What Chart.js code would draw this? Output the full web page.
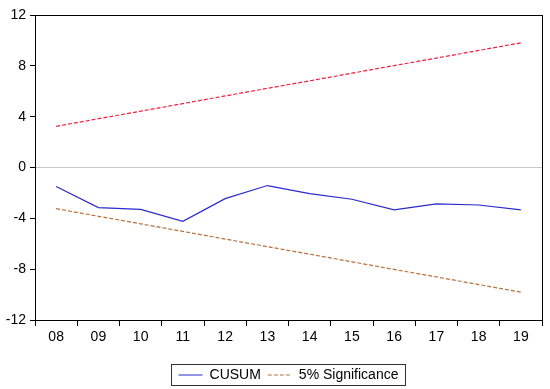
<!DOCTYPE html>
<html>
<head>
<meta charset="utf-8">
<script src="https://cdn.jsdelivr.net/npm/chart.js@4.4.0/dist/chart.umd.min.js"></script>
<style>
  html, body { margin: 0; padding: 0; background: #fff; }
  #wrap { width: 550px; height: 389px; position: relative; }
</style>
</head>
<body>
<div id="wrap"><canvas id="cusum-chart"></canvas></div>
<script>
'use strict';

const years = ['08', '09', '10', '11', '12', '13', '14', '15', '16', '17', '18', '19'];
const cusum = [-1.5, -3.16, -3.3, -4.24, -2.45, -1.42, -2.05, -2.5, -3.34, -2.87, -2.95, -3.34];
const upperBand = [3.24, 3.84, 4.43, 5.03, 5.63, 6.23, 6.82, 7.42, 8.02, 8.61, 9.21, 9.81];
const lowerBand = [-3.24, -3.84, -4.43, -5.03, -5.63, -6.23, -6.82, -7.42, -8.02, -8.61, -9.21, -9.81];
const yTicks = [-12, -8, -4, 0, 4, 8, 12];

const font = 'Liberation Sans, Arial, sans-serif';

// legend is centred under the plot area, not the whole canvas
const legendShift = {
    id: 'legendShift',
    afterLayout(chart) {
        const lg = chart.legend;
        if (!lg) return;
        const dx = (chart.chartArea.left + chart.chartArea.right) / 2 - (lg.left + lg.right) / 2;
        lg.left += dx;
        lg.right += dx;
        lg.legendHitBoxes.forEach(b => { b.left += dx; });
    }
};

// frame round the plot area and box round the legend
const framePlugin = {
    id: 'frame',
    afterDraw(chart) {
        const { ctx, chartArea: a, legend } = chart;
        ctx.save();
        ctx.strokeStyle = '#000';
        ctx.lineWidth = 1;
        ctx.setLineDash([]);
        ctx.strokeRect(Math.round(a.left) + 0.5, Math.round(a.top) + 0.5,
            Math.round(a.right - a.left), Math.round(a.bottom - a.top));
        if (legend && legend.legendHitBoxes.length) {
            const boxes = legend.legendHitBoxes;
            const last = boxes[boxes.length - 1];
            const x0 = boxes[0].left - 8;
            const x1 = last.left + last.width + 6;
            const y0 = boxes[0].top - 4;
            const h = boxes[0].height + 7;
            ctx.strokeStyle = '#333';
            ctx.strokeRect(Math.round(x0) + 0.5, Math.round(y0) + 0.5, Math.round(x1 - x0), Math.round(h));
        }
        ctx.restore();
    }
};

const ctx = document.getElementById('cusum-chart').getContext('2d');
new Chart(ctx, {
    type: 'line',
    data: {
        labels: years,
        datasets: [
            { label: 'CUSUM', data: cusum, borderColor: '#2a2ad0', borderWidth: 1.2, pointRadius: 0, pointStyle: 'line', tension: 0 },
            { label: '5% Significance', data: lowerBand, borderColor: '#b8703c', borderWidth: 1.2, borderDash: [4, 2], pointRadius: 0, pointStyle: 'line', tension: 0 },
            { label: 'upper', data: upperBand, borderColor: '#f0203c', borderWidth: 1.2, borderDash: [4, 2], pointRadius: 0, pointStyle: 'line', tension: 0 }
        ]
    },
    options: {
        responsive: true,
        maintainAspectRatio: false,
        animation: false,
        layout: { padding: { left: 0, top: 15, right: 8, bottom: -3 } },
        plugins: {
            tooltip: { enabled: false },
            legend: {
                position: 'bottom',
                labels: {
                    filter: (item) => item.text !== 'upper',
                    color: '#000',
                    font: { family: font, size: 14 },
                    usePointStyle: true,
                    pointStyleWidth: 24,
                    padding: 7,
                    generateLabels(chart) {
                        const items = Chart.defaults.plugins.legend.labels.generateLabels(chart);
                        items.forEach(it => {
                            const ds = chart.data.datasets[it.datasetIndex];
                            it.lineWidth = 1.2;
                            it.lineDash = ds.borderDash || [];
                            it.strokeStyle = ds.borderColor;
                        });
                        return items;
                    }
                }
            }
        },
        scales: {
            x: {
                offset: true,
                afterFit: (scale) => { scale.height = 41; },
                grid: { offset: true, drawOnChartArea: false, drawTicks: true, tickLength: 6, tickColor: '#000' },
                border: { display: true, color: '#000', width: 1 },
                ticks: { color: '#000', font: { family: font, size: 14 }, padding: 3, maxRotation: 0 }
            },
            y: {
                min: -12,
                max: 12,
                afterBuildTicks: (scale) => { scale.ticks = yTicks.map(v => ({ value: v })); },
                afterFit: (scale) => { scale.width = 35; },
                grid: {
                    color: (c) => (c.tick && c.tick.value === 0 ? '#c8c8c8' : 'rgba(0,0,0,0)'),
                    drawTicks: true, tickLength: 5, tickColor: '#000'
                },
                border: { display: true, color: '#000', width: 1 },
                ticks: { color: '#000', font: { family: font, size: 14 }, padding: 4 }
            }
        }
    },
    plugins: [legendShift, framePlugin]
});
</script>
</body>
</html>
